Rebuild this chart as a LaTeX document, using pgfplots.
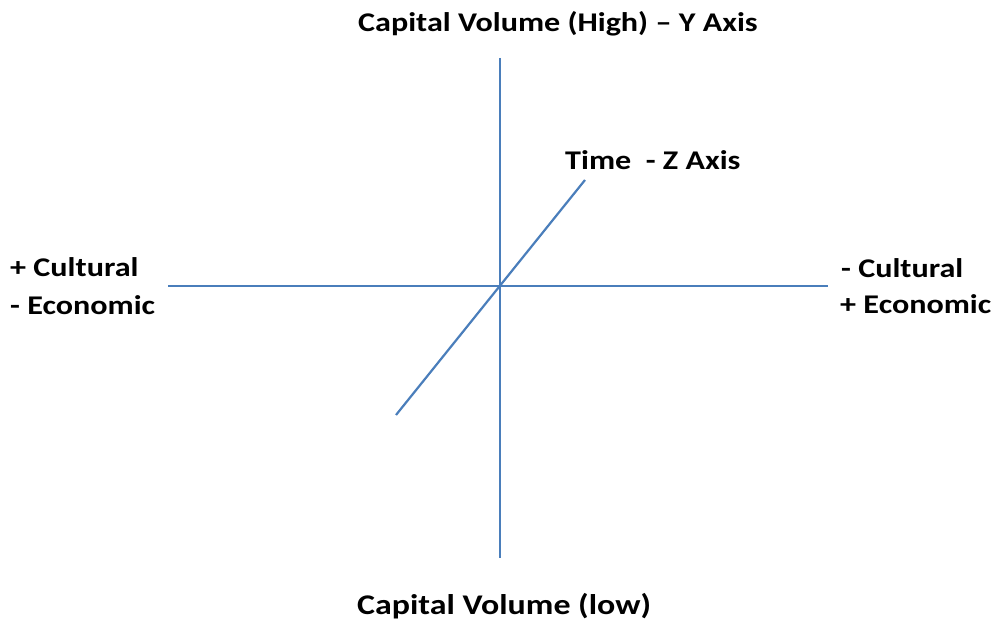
\documentclass[border=0pt]{standalone}
\usepackage{pgfplots}
\pgfplotsset{compat=1.18}
\usepackage{graphicx}
\usepackage{fontspec}
\setmainfont{Carlito}
\definecolor{axblue}{HTML}{4A7EBB}
\newcommand{\lab}[1]{\scalebox{1.19}[1]{#1}}
\begin{document}
\begin{tikzpicture}
\begin{axis}[
  width=994pt, height=625pt, scale only axis,
  xmin=0, xmax=994, ymin=0, ymax=625,
  hide axis, clip=false,
]
\path (rel axis cs:0,0) rectangle (rel axis cs:1,1);
\addplot[axblue, line width=2.2pt] coordinates {(168,339) (828,339)};
\addplot[axblue, line width=2.2pt] coordinates {(500,567) (500,67)};
\addplot[axblue, line width=2.2pt] coordinates {(396,210) (585,445)};
\tikzset{lab/.style={font=\fontsize{27}{32}\selectfont\bfseries, inner sep=0pt, anchor=base west}}
\node[lab] at (axis cs:358,593) {\lab{Capital Volume (High) -- Y Axis}};
\node[lab] at (axis cs:565,455) {\lab{Time\ \ - Z Axis}};
\node[lab] at (axis cs:10,348) {\lab{+ Cultural}};
\node[lab] at (axis cs:10,310) {\lab{- Economic}};
\node[lab] at (axis cs:841,347) {\lab{- Cultural}};
\node[lab] at (axis cs:840,312) {\lab{+ Economic}};
\node[lab, font=\fontsize{28.5}{34}\selectfont\bfseries] at (axis cs:357,11) {\lab{Capital Volume (low)}};
\end{axis}
\end{tikzpicture}
\end{document}
